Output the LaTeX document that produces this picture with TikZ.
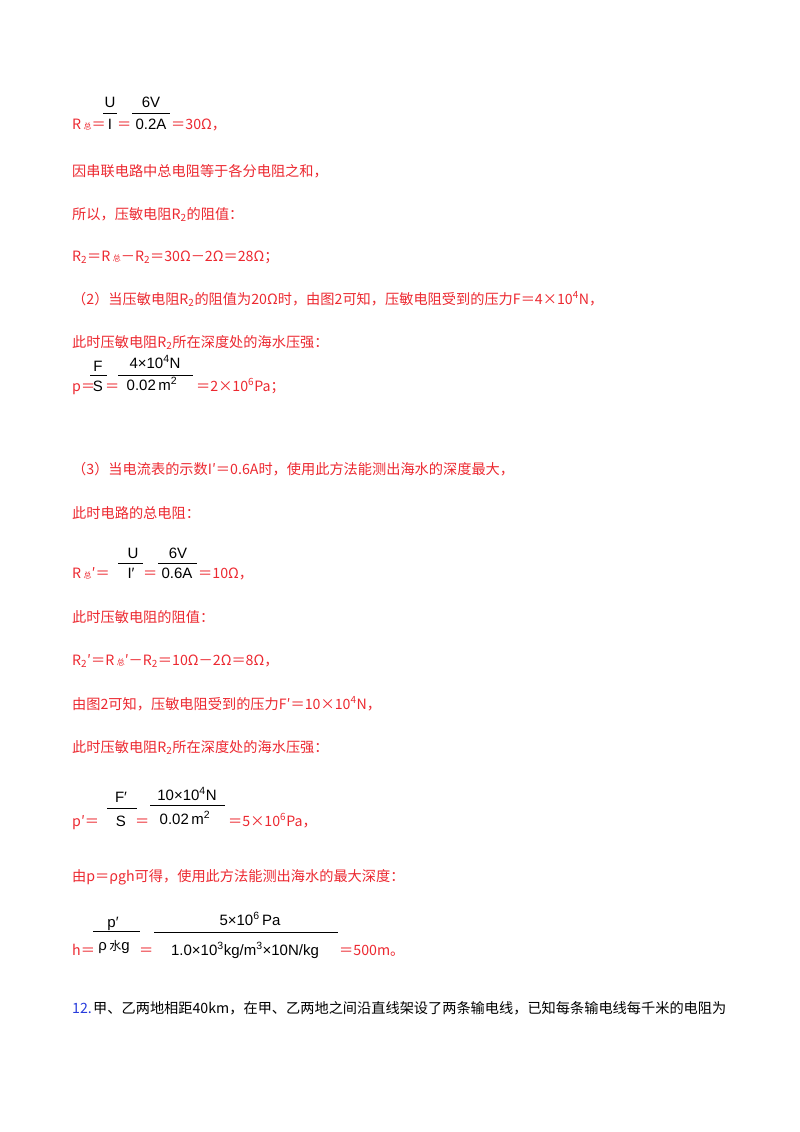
\documentclass[tikz,border=0pt]{standalone}
\usepackage{fontspec}
\newfontfamily\cjk{Noto Sans CJK SC}
\newfontfamily\frcfont{Liberation Sans}
\definecolor{ansred}{RGB}{236,40,48}
\definecolor{numblue}{RGB}{40,60,220}
\begin{document}
\begin{tikzpicture}[x=1pt,y=-1pt,
    txt/.style={anchor=base west,inner sep=0,text=ansred,font=\cjk\fontsize{14.2}{16}\selectfont},
    fn/.style={anchor=base,inner sep=0,text=black,font=\frcfont\fontsize{15}{17}\selectfont},
    bar/.style={line width=0.7pt,black}]
    \useasboundingbox (0,0) rectangle (800,1132);

    % R total = U/I
    \node[txt] (rz) at (72,129) {R\,{\fontsize{8}{9}\selectfont 总}＝};
    \node[fn] (u1) at (110,107) {U};
    \draw[bar] (103,113) -- (117,113);
    \node[fn] (i1) at (110,129) {I};
    \node[txt] (e1) at (117,129) {＝};
    \node[fn] (v1) at (151,107) {6V};
    \draw[bar] (132,113) -- (170,113);
    \node[fn] (a1) at (151,129) {0.2A};
    \node[txt] (r1) at (171,129) {＝30Ω，};

    \node[txt] (l2) at (72,176) {因串联电路中总电阻等于各分电阻之和，};
    \node[txt] (l3) at (72,219) {所以，压敏电阻R\textsubscript{2}的阻值：};
    \node[txt] (l4) at (72,261) {R\textsubscript{2}＝R\,{\fontsize{8}{9}\selectfont 总}－R\textsubscript{2}＝30Ω－2Ω＝28Ω；};
    \node[txt] (l5) at (72,304) {（2）当压敏电阻R\textsubscript{2}的阻值为20Ω时，由图2可知，压敏电阻受到的压力F＝4×10\textsuperscript{4}N，};
    \node[txt] (l6) at (72,347) {此时压敏电阻R\textsubscript{2}所在深度处的海水压强：};

    % p = F/S
    \node[txt] (p1) at (72,391) {p＝};
    \node[fn] (f2) at (98,371) {F};
    \draw[bar] (90,375) -- (107,375);
    \node[fn] (s2) at (98,391) {S};
    \node[txt] (e2) at (105,391) {＝};
    \node[fn] (n2) at (155,368) {4×10\textsuperscript{4}N};
    \draw[bar] (118,375) -- (193,375);
    \node[fn] (d2) at (152,390) {0.02\,m\textsuperscript{2}};
    \node[txt] (r2) at (196,391) {＝2×10\textsuperscript{6}Pa；};

    \node[txt] (l7) at (72,474) {（3）当电流表的示数I′＝0.6A时，使用此方法能测出海水的深度最大，};
    \node[txt] (l8) at (72,518) {此时电路的总电阻：};

    % R total' = U/I'
    \node[txt] (rz3) at (72,578) {R\,{\fontsize{8}{9}\selectfont 总}′＝};
    \node[fn] (u3) at (133,558) {U};
    \draw[bar] (118,563) -- (143,563);
    \node[fn] (i3) at (131,578) {I′};
    \node[txt] (e3) at (143,578) {＝};
    \node[fn] (v3) at (178,558) {6V};
    \draw[bar] (158,563) -- (197,563);
    \node[fn] (a3) at (177,578) {0.6A};
    \node[txt] (r3) at (198,578) {＝10Ω，};

    \node[txt] (l9) at (72,622) {此时压敏电阻的阻值：};
    \node[txt] (l10) at (72,665) {R\textsubscript{2}′＝R\,{\fontsize{8}{9}\selectfont 总}′－R\textsubscript{2}＝10Ω－2Ω＝8Ω，};
    \node[txt] (l11) at (72,709) {由图2可知，压敏电阻受到的压力F′＝10×10\textsuperscript{4}N，};
    \node[txt] (l12) at (72,752) {此时压敏电阻R\textsubscript{2}所在深度处的海水压强：};

    % p' = F'/S
    \node[txt] (p4) at (72,826) {p′＝};
    \node[fn] (f4) at (121,802) {F′};
    \draw[bar] (107,808) -- (137,808);
    \node[fn] (s4) at (121,826) {S};
    \node[txt] (e4) at (135,826) {＝};
    \node[fn] (n4) at (187,800) {10×10\textsuperscript{4}N};
    \draw[bar] (150,805) -- (225,805);
    \node[fn] (d4) at (185,824) {0.02\,m\textsuperscript{2}};
    \node[txt] (r4) at (228,826) {＝5×10\textsuperscript{6}Pa，};

    \node[txt] (l13) at (72,881) {由p＝ρgh可得，使用此方法能测出海水的最大深度：};

    % h = p'/(rho g)
    \node[txt] (h5) at (72,955) {h＝};
    \node[fn] (p5) at (113,927) {p′};
    \draw[bar] (93,931) -- (140,931);
    \node[fn] (g5) at (114,950) {ρ\,{\cjk\fontsize{12}{13}\selectfont 水}g};
    \node[txt] (e5) at (139,955) {＝};
    \node[fn] (n5) at (250,925) {5×10\textsuperscript{6}\,Pa};
    \draw[bar] (154,932) -- (338,932);
    \node[fn] (d5) at (245,955) {1.0×10\textsuperscript{3}kg/m\textsuperscript{3}×10N/kg};
    \node[txt] (r5) at (339,955) {＝500m。};

    \node[txt,text=numblue] (q12) at (72,1013) {12.};
    \node[txt,text=black] (q12t) at (93,1013) {甲、乙两地相距40km，在甲、乙两地之间沿直线架设了两条输电线，已知每条输电线每千米的电阻为};
\end{tikzpicture}
\end{document}
